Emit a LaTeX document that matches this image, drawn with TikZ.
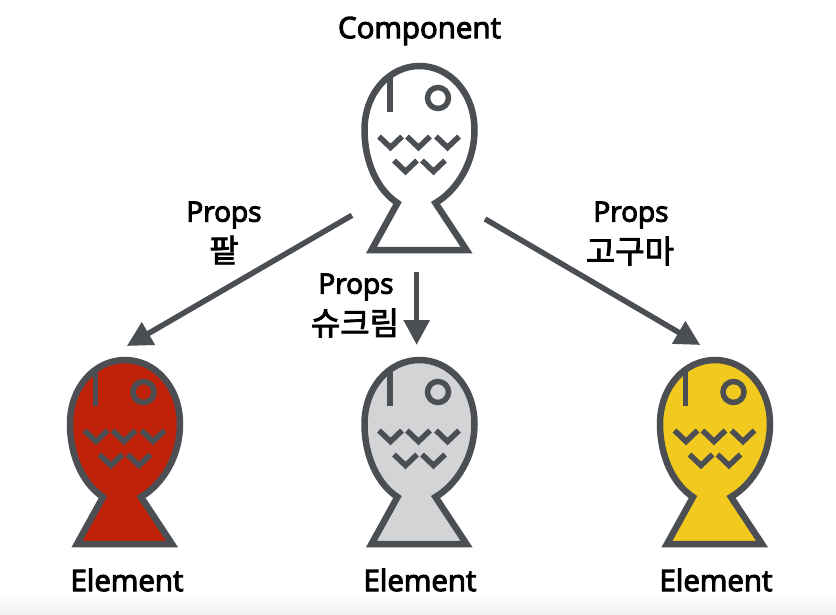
\documentclass[tikz,border=0pt]{standalone}
\usepackage{fontspec}
\setmainfont{Open Sans}[RawFeature={embolden=3.5}]
\newfontfamily\krfont{Noto Sans CJK KR}[RawFeature={embolden=2.5}]
\usetikzlibrary{arrows.meta}
\definecolor{ink}{HTML}{4B4E52}
\definecolor{redfill}{HTML}{C0220A}
\definecolor{greyfill}{HTML}{D2D4D6}
\definecolor{yellowfill}{HTML}{F2CA1F}
\tikzset{
  fishbox/.style={rectangle,inner sep=0pt,outer sep=0pt,minimum width=133pt,minimum height=210pt},
  flow/.style={draw=ink,line width=5.5pt,-{Triangle[length=25pt,width=25pt]}},
  lab/.style={inner sep=0pt,text=black,font=\fontsize{28}{30}\selectfont},
  biglab/.style={inner sep=0pt,text=black,font=\fontsize{29.5}{31}\selectfont},
  klab/.style={inner sep=0pt,text=black,font=\krfont\fontsize{32}{34}\selectfont},
  fish/.pic={
    \path[draw=ink,line width=6.5pt,miter limit=10,fill=#1,line join=miter]
      (-22,73) .. controls (-42,60) and (-55,32) .. (-55,0)
      .. controls (-55,-37) and (-30,-64) .. (0,-64)
      .. controls (30,-64) and (55,-37) .. (55,0)
      .. controls (55,32) and (38,60) .. (16,73)
      -- (47,120) -- (-48,120) -- cycle;
    \draw[ink,line width=5.5pt] (-29.5,-55) -- (-29.5,-18);
    \draw[ink,line width=5.5pt] (18.5,-32) circle (10.5);
    \foreach \cx/\cy in {-29/9.5,-1/9.5,28/9.5,-14/33.5,14/33.5}{
      \draw[ink,line width=5.5pt,line join=miter] (\cx-11.5,\cy-3) -- (\cx,\cy+8) -- (\cx+11.5,\cy-3);
    }
  }
}
\begin{document}
\begin{tikzpicture}[x=1pt,y=-1pt]
\useasboundingbox (0,0) rectangle (836,615);
\fill[white] (0,0) rectangle (836,615);
\shade[top color=white,bottom color=black!5] (0,590) rectangle (836,615);
\pic at (419.5,130) {fish=white};
\pic at (125,424) {fish=redfill};
\pic at (419.5,424) {fish=greyfill};
\pic at (715,424) {fish=yellowfill};
\node[fishbox] (f0) at (418.5,167) {};
\node[fishbox] (f1) at (125,451) {};
\node[fishbox] (f2) at (419.5,450) {};
\node[fishbox] (f3) at (715,450) {};
\draw[flow] (f0.216.9) -- (f1.89.5);
\draw[flow] (f0.-91.4) -- (f0.-91.4 |- f2.north);
\draw[flow] (f0.-38) -- (f3.98.66);
\node[biglab] (t0) at (419.5,31) {Component};
\node[lab] (t1) at (224,215) {Props};
\node[klab] (t1k) at (224,250) {팥};
\node[lab] (t2) at (356,287) {Props};
\node[klab] (t2k) at (355,323) {슈크림};
\node[lab] (t3) at (631,215) {Props};
\node[klab] (t3k) at (630,251) {고구마};
\node[biglab] (e1) at (127,580) {Element};
\node[biglab] (e2) at (420,580) {Element};
\node[biglab] (e3) at (716,580) {Element};
\end{tikzpicture}
\end{document}
